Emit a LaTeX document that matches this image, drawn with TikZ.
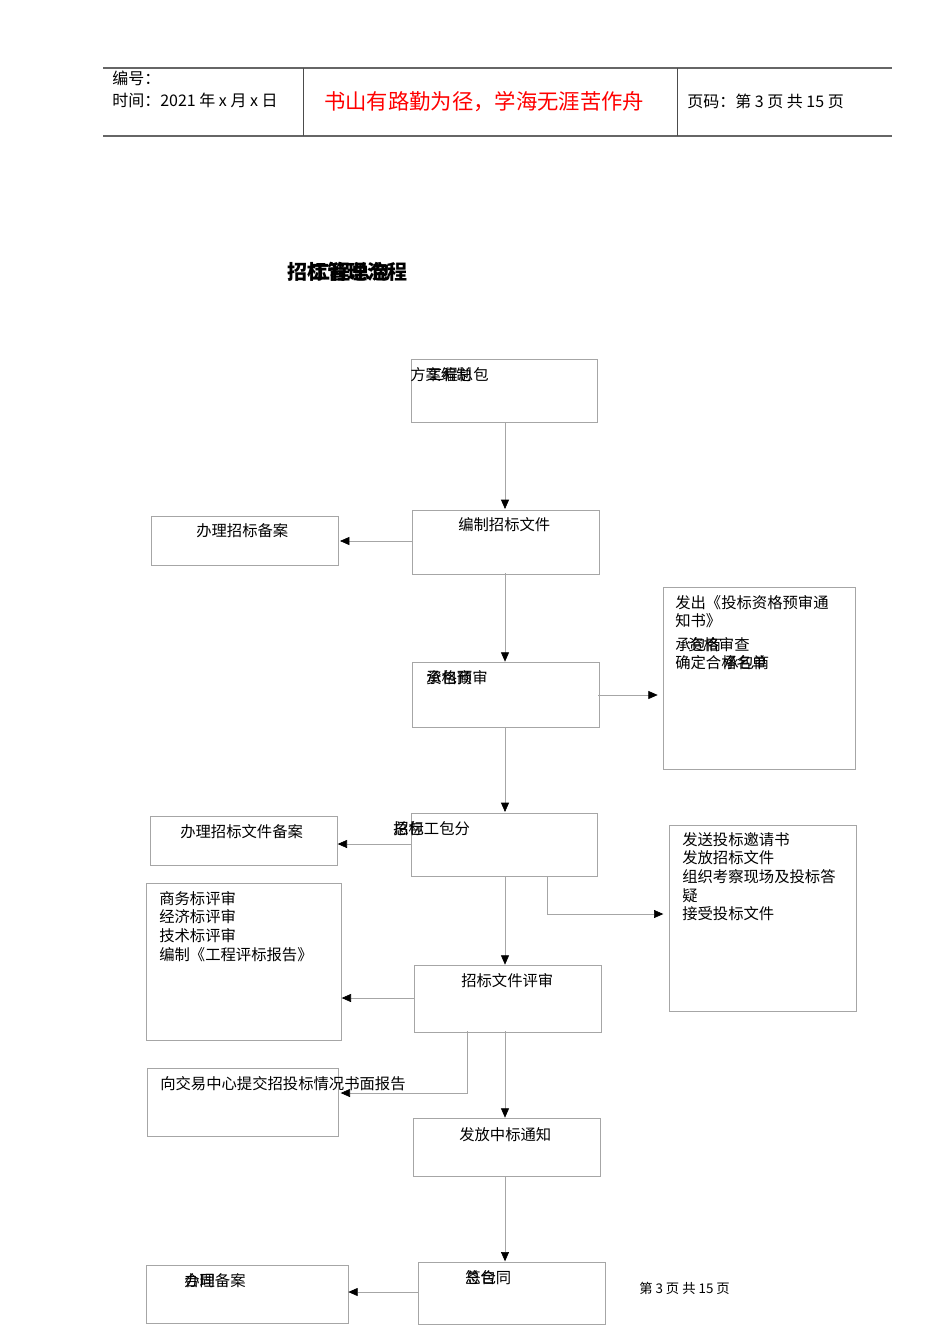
\documentclass[tikz,border=0pt]{standalone}
\usepackage{fontspec}
\setmainfont{Liberation Serif}
\newfontfamily\cjk{Noto Sans CJK SC}
\usetikzlibrary{arrows.meta}
\begin{document}
\begin{tikzpicture}[x=0.75pt,y=-0.75pt,
  box/.style={draw=black!35,line width=0.6pt},
  txt/.style={font=\cjk\fontsize{11.5}{14}\selectfont,inner sep=0pt,anchor=north west,align=left},
  link/.style={draw=black!35,line width=0.5pt,-{Triangle[black,length=7pt,width=6pt]}}]
\useasboundingbox (0,0) rectangle (950,1344);

% header
\draw[black!60,line width=0.8pt] (103,68) -- (892,68);
\draw[black!60,line width=1.2pt] (103,136) -- (892,136);
\draw[black!70] (303,68) -- (303,136);
\draw[black!70] (677,68) -- (677,136);
\node[txt,font=\cjk\fontsize{12}{16}\selectfont] (hd1) at (112,71) {编号：\\时间：2021 年 x 月 x 日};
\node[txt,font=\cjk\fontsize{16}{18}\selectfont,text=red] (hd2) at (324,91) {书山有路勤为径，学海无涯苦作舟};
\node[txt,font=\cjk\fontsize{12}{14}\selectfont] (hd3) at (687,94) {页码：第 3 页 共 15 页};

% title
\node[txt,font=\cjk\bfseries\fontsize{15}{18}\selectfont] (title) at (287,262) {招标管理流程};
\node[txt,font=\cjk\bfseries\fontsize{15}{18}\selectfont] (title2) at (310,262) {工程总包};

% boxes
\draw[box] (411,359) rectangle (597,422);
\node (b1) at (505,390) {};
\draw[box] (412,510) rectangle (599,574);
\node (b2) at (505,541) {};
\draw[box] (151,516) rectangle (338,565);
\node (l1) at (244,541) {};
\draw[box] (412,662) rectangle (599,727);
\node (b3) at (505,695) {};
\draw[box] (663,587) rectangle (855,769);
\node (r1) at (759,695) {};
\draw[box] (411,813) rectangle (597,876);
\node (b4) at (505,844) {};
\draw[box] (150,816) rectangle (337,865);
\node (l2) at (243,844) {};
\draw[box] (669,825) rectangle (856,1011);
\node (r2) at (762,914) {};
\draw[box] (146,883) rectangle (341,1040);
\node (l3) at (243,998) {};
\draw[box] (414,965) rectangle (601,1032);
\node (b5) at (505,998) {};
\draw[box] (147,1068) rectangle (338,1136);
\node (l4) at (242,1093) {};
\draw[box] (413,1118) rectangle (600,1176);
\node (b6) at (505,1147) {};
\draw[box] (418,1262) rectangle (605,1324);
\node (b7) at (505,1292) {};
\draw[box] (146,1265) rectangle (348,1323);
\node (l5) at (247,1292) {};

% texts
\node[txt] (t1) at (410,367) {方案编制};
\node[txt] (t1b) at (427,367) {工程总包};
\node[txt] (t2) at (458,517) {编制招标文件};
\node[txt] (t3) at (196,523) {办理招标备案};
\node[txt] (t4) at (426,670) {资格预审};
\node[txt] (t4b) at (426,670) {承包商};
\node[txt] (t5) at (675,595) {发出《投标资格预审通\\知书》};
\node[txt] (t5b) at (688,637) {资格审查};
\node[txt] (t5c) at (675,637) {承包商};
\node[txt] (t5d) at (675,655) {确定合格名单};
\node[txt] (t5e) at (723,655) {承包商};
\node[txt] (t6) at (393,821) {招标工包分};
\node[txt] (t6b) at (393,821) {总包};
\node[txt] (t7) at (180,824) {办理招标文件备案};
\node[txt] (t8) at (682,832) {发送投标邀请书\\发放招标文件\\组织考察现场及投标答\\疑\\接受投标文件};
\node[txt] (t9) at (159,891) {商务标评审\\经济标评审\\技术标评审\\编制《工程评标报告》};
\node[txt] (t10) at (461,973) {招标文件评审};
\node[txt] (t11) at (160,1076) {向交易中心提交招投标情况书面报告};
\node[txt] (t12) at (459,1127) {发放中标通知};
\node[txt] (t13) at (465,1270) {签合同};
\node[txt] (t13b) at (465,1270) {总包};
\node[txt] (t14) at (184,1273) {办理备案};
\node[txt] (t14b) at (184,1273) {合同};
\node[txt,font=\cjk\fontsize{10}{12}\selectfont] (foot) at (639,1282) {第 3 页 共 15 页};

% connectors
\draw[link] ([yshift=-24pt]b1.center) -- ([yshift=24pt]b2.center);
\draw[link] ([xshift=-70pt]b2.center) -- ([xshift=72pt]l1.center);
\draw[link] ([yshift=-24pt]b2.center) -- ([yshift=25pt]b3.center);
\draw[link] ([xshift=70pt]b3.center) -- ([xshift=-76pt]r1.center);
\draw[link] ([yshift=-24pt]b3.center) -- ([yshift=24pt]b4.center);
\draw[link] ([xshift=-70pt]b4.center) -- ([xshift=71pt]l2.center);
\draw[link] ([xshift=32pt,yshift=-24pt]b4.center) |- ([xshift=-74pt]r2.center);
\draw[link] ([yshift=-24pt]b4.center) -- ([yshift=25pt]b5.center);
\draw[link] ([xshift=-68pt]b5.center) -- ([xshift=74pt]l3.center);
\draw[link] ([xshift=-28pt,yshift=-25pt]b5.center) |- ([xshift=74pt]l4.center);
\draw[link] ([yshift=-25pt]b5.center) -- ([yshift=22pt]b6.center);
\draw[link] ([yshift=-22pt]b6.center) -- ([yshift=23pt]b7.center);
\draw[link] ([xshift=-65pt]b7.center) -- ([xshift=76pt]l5.center);
\end{tikzpicture}
\end{document}
